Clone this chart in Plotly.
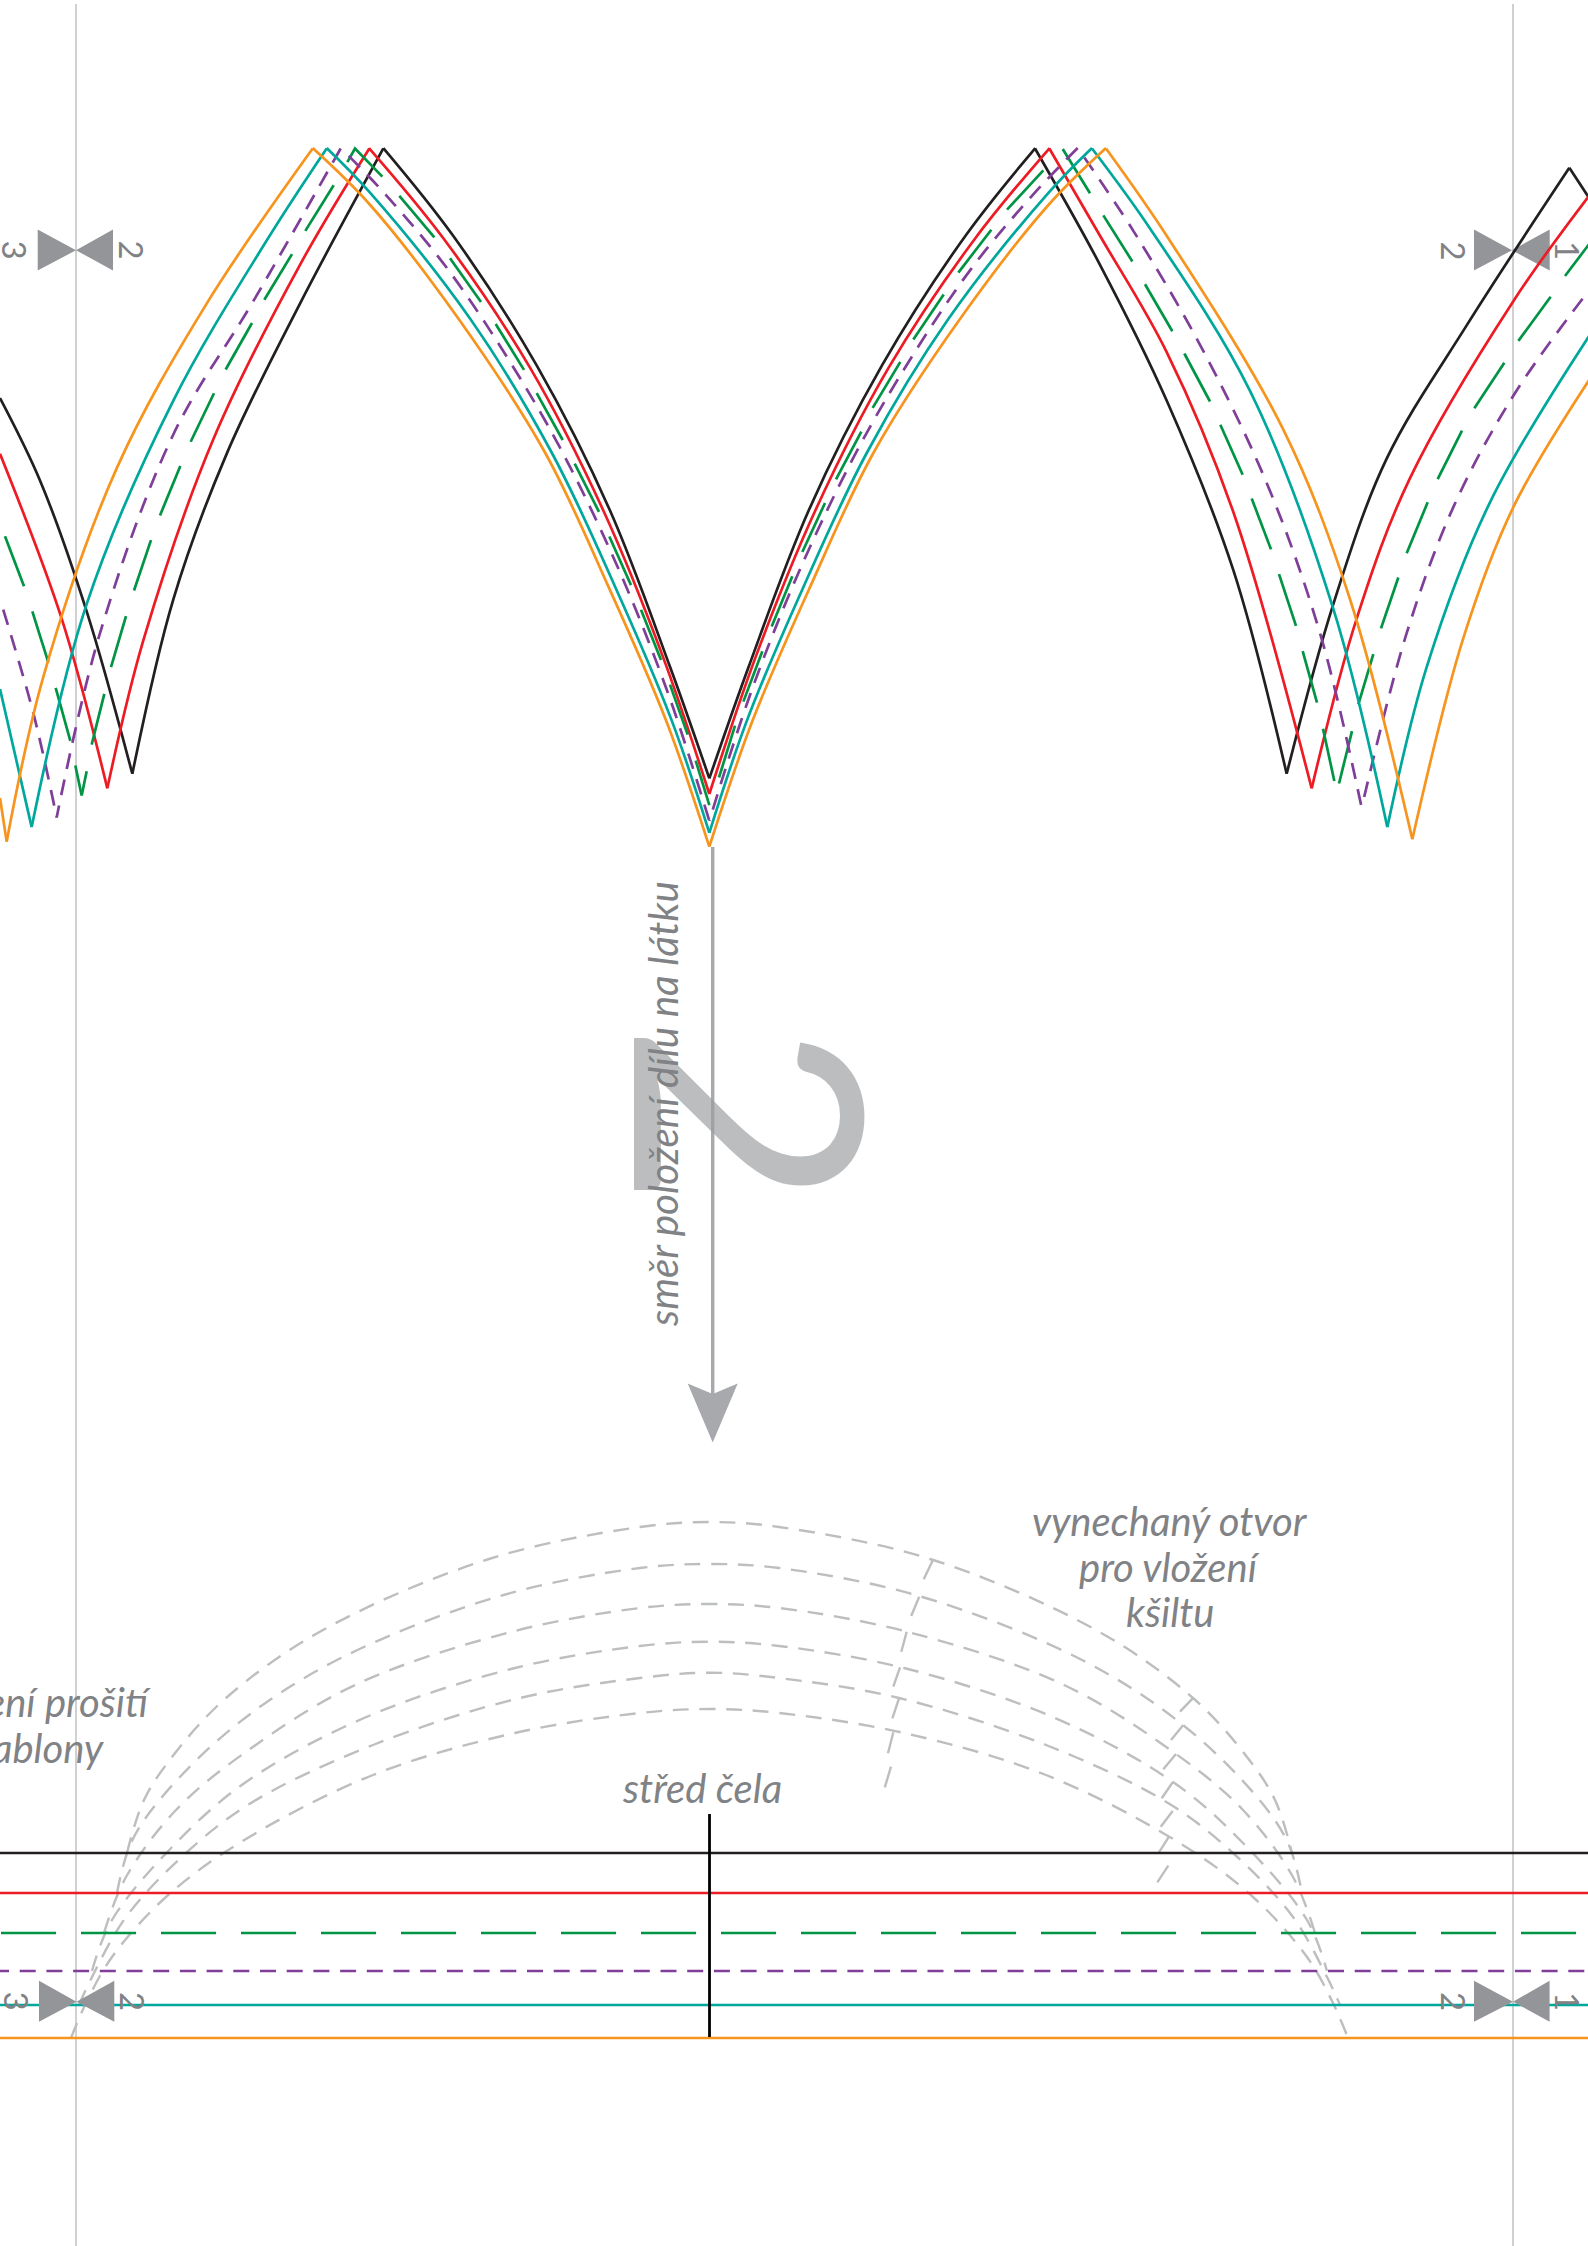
import plotly.graph_objects as go

PAGE_W, PAGE_H = 1588, 2246
BLACK, RED, GREEN, PURPLE, TEAL, ORANGE = "#231f20", "#ed1c24", "#009444", "#7f3f98", "#00a79d", "#f7941d"
GREY_TEXT, GREY_MARK, GREY_ARC, GREY_GUIDE, GREY_ARROW = "#808285", "#939598", "#bcbec0", "#c7c8ca", "#a7a9ac"
LW = 2.7

def crop1(p): return [(a / 3, 100 + b / 2.063) for a, b in p]
def crop2(p): return [(1100 + a / 3, 100 + b / 2.063) for a, b in p]
def crop10(p): return [(370 + a / 3, 140 + b / 2.24) for a, b in p]
def crop11(p): return [(700 + a / 3, 140 + b / 2.24) for a, b in p]

# ---- pattern limbs, values ----
black_limbs = [
    crop1([(0,615),(120,785),(260,1055),(397,1390)]),
    crop1([(397,1390),(520,1030),(680,730),(900,420),(1150,100)]),
    crop10([(40,18),(250,215),(500,505),(720,830),(900,1180),(1018,1430)]),
    crop11([(1006,18),(796,215),(546,505),(326,830),(146,1180),(28,1430)]),
    crop2([(-195,100),(0,340),(200,620),(400,970),(560,1390)]),
    crop2([(560,1390),(700,1040),(860,740),(1100,465),(1408,140)]),
    crop2([(1408,140),(1470,205)]),
]
red_limbs = [
    crop1([(0,730),(185,1070),(322,1420)]),
    crop1([(322,1420),(430,1115),(640,700),(900,340),(1108,100)]),
    crop10([(-3,18),(220,220),(480,510),(700,830),(880,1160),(1018,1465)]),
    crop11([(1049,18),(826,220),(566,510),(346,830),(166,1160),(28,1465)]),
    crop2([(-152,100),(0,280),(200,520),(400,850),(635,1420)]),
    crop2([(635,1420),(770,1070),(930,780),(1240,415),(1470,195)]),
]
teal_limbs = [
    crop1([(0,1215),(95,1500)]),
    crop1([(95,1500),(260,1040),(520,620),(800,290),(980,100)]),
    crop10([(-130,18),(0,118),(300,400),(545,700),(735,1000),(905,1300),(1018,1552)]),
    crop11([(1176,18),(1046,118),(746,400),(501,700),(311,1000),(141,1300),(28,1552)]),
    crop2([(-24,100),(150,265),(450,600),(700,1050),(862,1500)]),
    crop2([(862,1500),(980,1170),(1170,830),(1470,484)]),
]
orange_limbs = [
    crop1([(0,1440),(20,1530)]),
    crop1([(20,1530),(130,1190),(350,760),(620,420),(938,100)]),
    crop10([(-172,18),(0,145),(265,400),(525,700),(715,1000),(888,1300),(1018,1583)]),
    crop11([(1218,18),(1046,145),(781,400),(521,700),(331,1000),(158,1300),(28,1583)]),
    crop2([(18,100),(200,280),(550,680),(750,1030),(937,1525)]),
    crop2([(937,1525),(1090,1110),(1240,840),(1470,575)]),
]
# purple: dash pattern starts at the apex going down
purple_dash_first = [
    crop1([(1022,100),(760,415),(520,690),(300,1100),(170,1480)]),
    crop11([(1133,18),(996,125),(814,288),(636,485),(474,692),(301,960),(153,1237),(28,1525)]),
]
purple_gap_first = [
    crop10([(-87,18),(50,125),(232,288),(410,485),(572,692),(745,960),(893,1237),(1018,1525)]),
    crop2([(-66,100),(100,270),(300,505),(500,790),(660,1100),(785,1460)]),
    crop2([(785,1460),(920,1100),(1060,840),(1240,610),(1470,390)]),
    crop1([(0,1030),(100,1265),(170,1480)]),
]
# green: each long dash as read, including the phase at every apex
green_dashes = [
    crop1([(15,900),(72,1003)]), crop1([(97,1055),(145,1160)]), crop1([(167,1213),(211,1322)]), crop1([(226,1373),(245,1435)]),
    crop1([(245,1435),(260,1385)]), crop1([(275,1330),(313,1225)]), crop1([(333,1170),(378,1065)]), crop1([(402,1012),(453,908)]),
    crop1([(480,857),(541,755)]), crop1([(572,705),(642,605)]), crop1([(677,556),(756,460)]), crop1([(793,412),(876,318)]),
    crop1([(916,270),(1001,176)]), crop1([(1042,128),(1065,100),(1147,158)]),
    crop10([(88,125),(193,218)]), crop10([(240,265),(333,363)]), crop10([(377,412),(462,515)]), crop10([(500,567),(578,672)]),
    crop10([(614,725),(687,833)]), crop10([(718,888),(783,997)]), crop10([(813,1052),(873,1165)]), crop10([(900,1220),(953,1332)]),
    crop10([(977,1390),(1018,1490)]),
    crop11([(57,1428),(105,1312)]), crop11([(130,1258),(187,1145)]), crop11([(215,1090),(277,977)]), crop11([(307,923),(375,813)]),
    crop11([(408,760),(484,653)]), crop11([(518,600),(601,497)]), crop11([(640,447),(731,346)]), crop11([(775,297),(874,201)]),
    crop11([(921,156),(1030,68)]),
    [(1062.7,149),(1090,193.3)],
    crop2([(10,238),(97,333)]), crop2([(135,380),(217,477)]), crop2([(253,523),(330,622)]), crop2([(361,670),(428,773)]),
    crop2([(455,822),(513,927)]), crop2([(537,978),(588,1085)]), crop2([(608,1137),(651,1243)]), crop2([(669,1297),(703,1405)]),
    crop2([(717,1410),(756,1302)]), crop2([(775,1247),(820,1143)]), crop2([(843,1090),(895,985)]), crop2([(920,935),(983,830)]),
    crop2([(1013,782),(1086,682)]), crop2([(1123,636),(1213,542)]), crop2([(1255,497),(1352,406)]), crop2([(1395,363),(1470,295)]),
]

# ---- horizontal seam lines (y) ----
line_black_y, line_red_y, line_green_y, line_purple_y, line_teal_y, line_orange_y = 1853, 1893, 1933, 1971, 2005, 2038

# ---- dashed arcs: right half, mirrored round the centre ----
ARC_CENTRE = 709.5
arc1_x = [709.5,779,930,1096,1193,1247,1275,1292]
arc1_y = [1522,1527,1559,1630,1698,1757,1800,1853]
arc2_x = [709.5,779,919,1082,1183,1257,1288,1302]
arc2_y = [1564,1568,1596,1660,1725,1797,1843,1893]
arc3_x = [709.5,779,908,1064,1176,1243,1293,1315]
arc3_y = [1604,1608,1632,1685,1754,1810,1877,1933]
arc4_x = [709.5,779,904,1055,1173,1243,1307,1327]
arc4_y = [1641.7,1646,1668,1718,1782,1843,1920,1971]
arc5_x = [709.5,779,899,1046,1168,1233,1293,1327,1340]
arc5_y = [1672.7,1678,1698,1745,1803,1853,1917,1977,2005]
arc6_x = [709.5,779,904,1046,1178,1253,1307,1333,1348]
arc6_y = [1709,1713,1733,1775,1842,1897,1957,2003,2038]
arcs = [(arc1_x,arc1_y),(arc2_x,arc2_y),(arc3_x,arc3_y),(arc4_x,arc4_y),(arc5_x,arc5_y),(arc6_x,arc6_y)]

# ---- cut marks for the visor opening ----
cut_left = [[(932.6,1560.7),(923.7,1579.3)],[(919.2,1596.7),(911.2,1616)],[(906.7,1631.7),(901.3,1651.7)],
            [(900,1667.3),(893.3,1686.7)],[(899,1698.3),(892.4,1718.3)],[(893.3,1732.3),(888,1753.3)],[(891,1766.7),(884.8,1787.3)]]
cut_right = [[(1192.7,1698.3),(1180,1711.7)],[(1183.3,1725),(1171,1740)],[(1176,1754),(1163.3,1769.3)],
             [(1172.7,1782.3),(1161.7,1798.3)],[(1172.7,1811),(1160.7,1826.7)],[(1169,1836.7),(1158.3,1853.3)],[(1168.3,1865.7),(1157.3,1882.3)]]

guide_xs = [76, 1513]
guide_y = [4, 2246]
centre_mark_x, centre_mark_y = [709.5, 709.5], [1814, 2037]
shaft_x, shaft_y = [712.7, 712.7], [847, 1396]
arrow_x = [687.7, 712.7, 737.7, 712.7, 687.7]
arrow_y = [1383.5, 1394, 1383.5, 1442.5, 1383.5]

def bow(xl, xa, xr, yt, yb, ya):
    return ([xl, xa, xl, xl, None, xr, xa, xr, xr], [yt, ya, yb, yt, None, yt, ya, yb, yt])
top_marks = [(37.7,76,113,229.4,270.6,250.2),(1474,1512,1549.7,229.4,270.6,250.2)]
bottom_marks = [(39,76.5,114.3,1980.7,2021.7,2001.7),(1474,1513,1549.6,1980.7,2021.7,2001.7)]

small_labels = [("3",15,249.5),("2",132,249.5),("2",1453.5,251),("1",1568,250),
                ("3",16.5,2001),("2",133,2001),("2",1454,2001),("1",1568,2001)]
text_labels = [("vynechaný otvor",1170,1521,"center"),("pro vložení",1169,1567,"center"),("kšiltu",1170,1612,"center"),
               ("střed čela",702,1788,"center"),("ení prošití",152.7,1702,"right"),("ablony",106,1748,"right")]

def join(parts):
    xs, ys = [], []
    for p in parts:
        xs += [a for a, _ in p] + [None]
        ys += [b for _, b in p] + [None]
    return xs, ys

fig = go.Figure()
def line(xs, ys, color, width=LW, dash=None, shape="linear", smooth=None):
    ln = dict(color=color, width=width, shape=shape)
    if dash: ln["dash"] = dash
    if smooth is not None: ln["smoothing"] = smooth
    fig.add_trace(go.Scatter(x=xs, y=ys, mode="lines", line=ln, hoverinfo="skip", showlegend=False))
def fill(xs, ys, color):
    fig.add_trace(go.Scatter(x=xs, y=ys, mode="lines", fill="toself", fillcolor=color,
                             line=dict(width=0, color=color), hoverinfo="skip", showlegend=False))

for gx in guide_xs:
    line([gx, gx], guide_y, GREY_GUIDE, 1.7)
for m in top_marks:
    fill(*bow(*m), GREY_MARK)

ARC_DASH = "16px,10.7px"
for ax, ay in arcs:
    xs = [2 * ARC_CENTRE - v for v in reversed(ax[1:])] + ax
    ys = list(reversed(ay[1:])) + ay
    line(xs, ys, GREY_ARC, 2.4, ARC_DASH, "spline", 1)
line(*join(cut_left), GREY_ARC, 2.4)
line(*join(cut_right), GREY_ARC, 2.4)

line([0, PAGE_W], [line_black_y]*2, BLACK)
line([0, PAGE_W], [line_red_y]*2, RED)
line([-79, PAGE_W], [line_green_y]*2, GREEN, LW, "55px,25px")
line([-7, PAGE_W], [line_purple_y]*2, PURPLE, LW, "16px,10.7px")
line([0, PAGE_W], [line_teal_y]*2, TEAL)
line([0, PAGE_W], [line_orange_y]*2, ORANGE)
for m in bottom_marks:
    fill(*bow(*m), GREY_MARK)
line(centre_mark_x, centre_mark_y, "#000000", 2.8)

line(*join(black_limbs), BLACK, LW, None, "spline", 1)
line(*join(red_limbs), RED, LW, None, "spline", 1)
line(*join(green_dashes), GREEN, LW)
line(*join(purple_dash_first), PURPLE, LW, "16px,10.7px", "spline", 1)
line(*join(purple_gap_first), PURPLE, LW, "0px,10.7px,16px,0px", "spline", 1)
line(*join(teal_limbs), TEAL, LW, None, "spline", 1)
line(*join(orange_limbs), ORANGE, LW, None, "spline", 1)

line(shaft_x, shaft_y, GREY_ARROW, 3.4)
fill(arrow_x, arrow_y, GREY_ARROW)

FONT = "Lato"
ann = []
ann.append(dict(text="2", x=757, y=1115, textangle=90, showarrow=False, xanchor="center", yanchor="middle",
                font=dict(family=FONT, size=318, color="rgba(156,158,161,0.68)")))
ann.append(dict(text="<i>směr položení dílu na látku</i>", x=662, y=1104, textangle=-90, showarrow=False,
                xanchor="center", yanchor="middle", font=dict(family=FONT, size=40.4, color=GREY_TEXT)))
for t, x, y in small_labels:
    ann.append(dict(text=t, x=x, y=y, textangle=90, showarrow=False, xanchor="center", yanchor="middle",
                    font=dict(family=FONT, size=33, color=GREY_TEXT)))
for t, x, y, anc in text_labels:
    ann.append(dict(text=f"<i>{t}</i>", x=x, y=y, showarrow=False, xanchor=anc, yanchor="middle",
                    font=dict(family=FONT, size=40, color=GREY_TEXT)))
for a in ann:
    a.update(xref="x", yref="y")

fig.update_layout(width=PAGE_W, height=PAGE_H, autosize=False, margin=dict(l=0, r=0, t=0, b=0, pad=0),
                  paper_bgcolor="white", plot_bgcolor="white", showlegend=False, hovermode=False, annotations=ann,
                  xaxis=dict(range=[0, PAGE_W], visible=False, fixedrange=True),
                  yaxis=dict(range=[PAGE_H, 0], visible=False, fixedrange=True))
fig.write_html("out.html", config=dict(displayModeBar=False),
               post_script="document.body.style.margin='0';document.documentElement.style.overflow='hidden';")
